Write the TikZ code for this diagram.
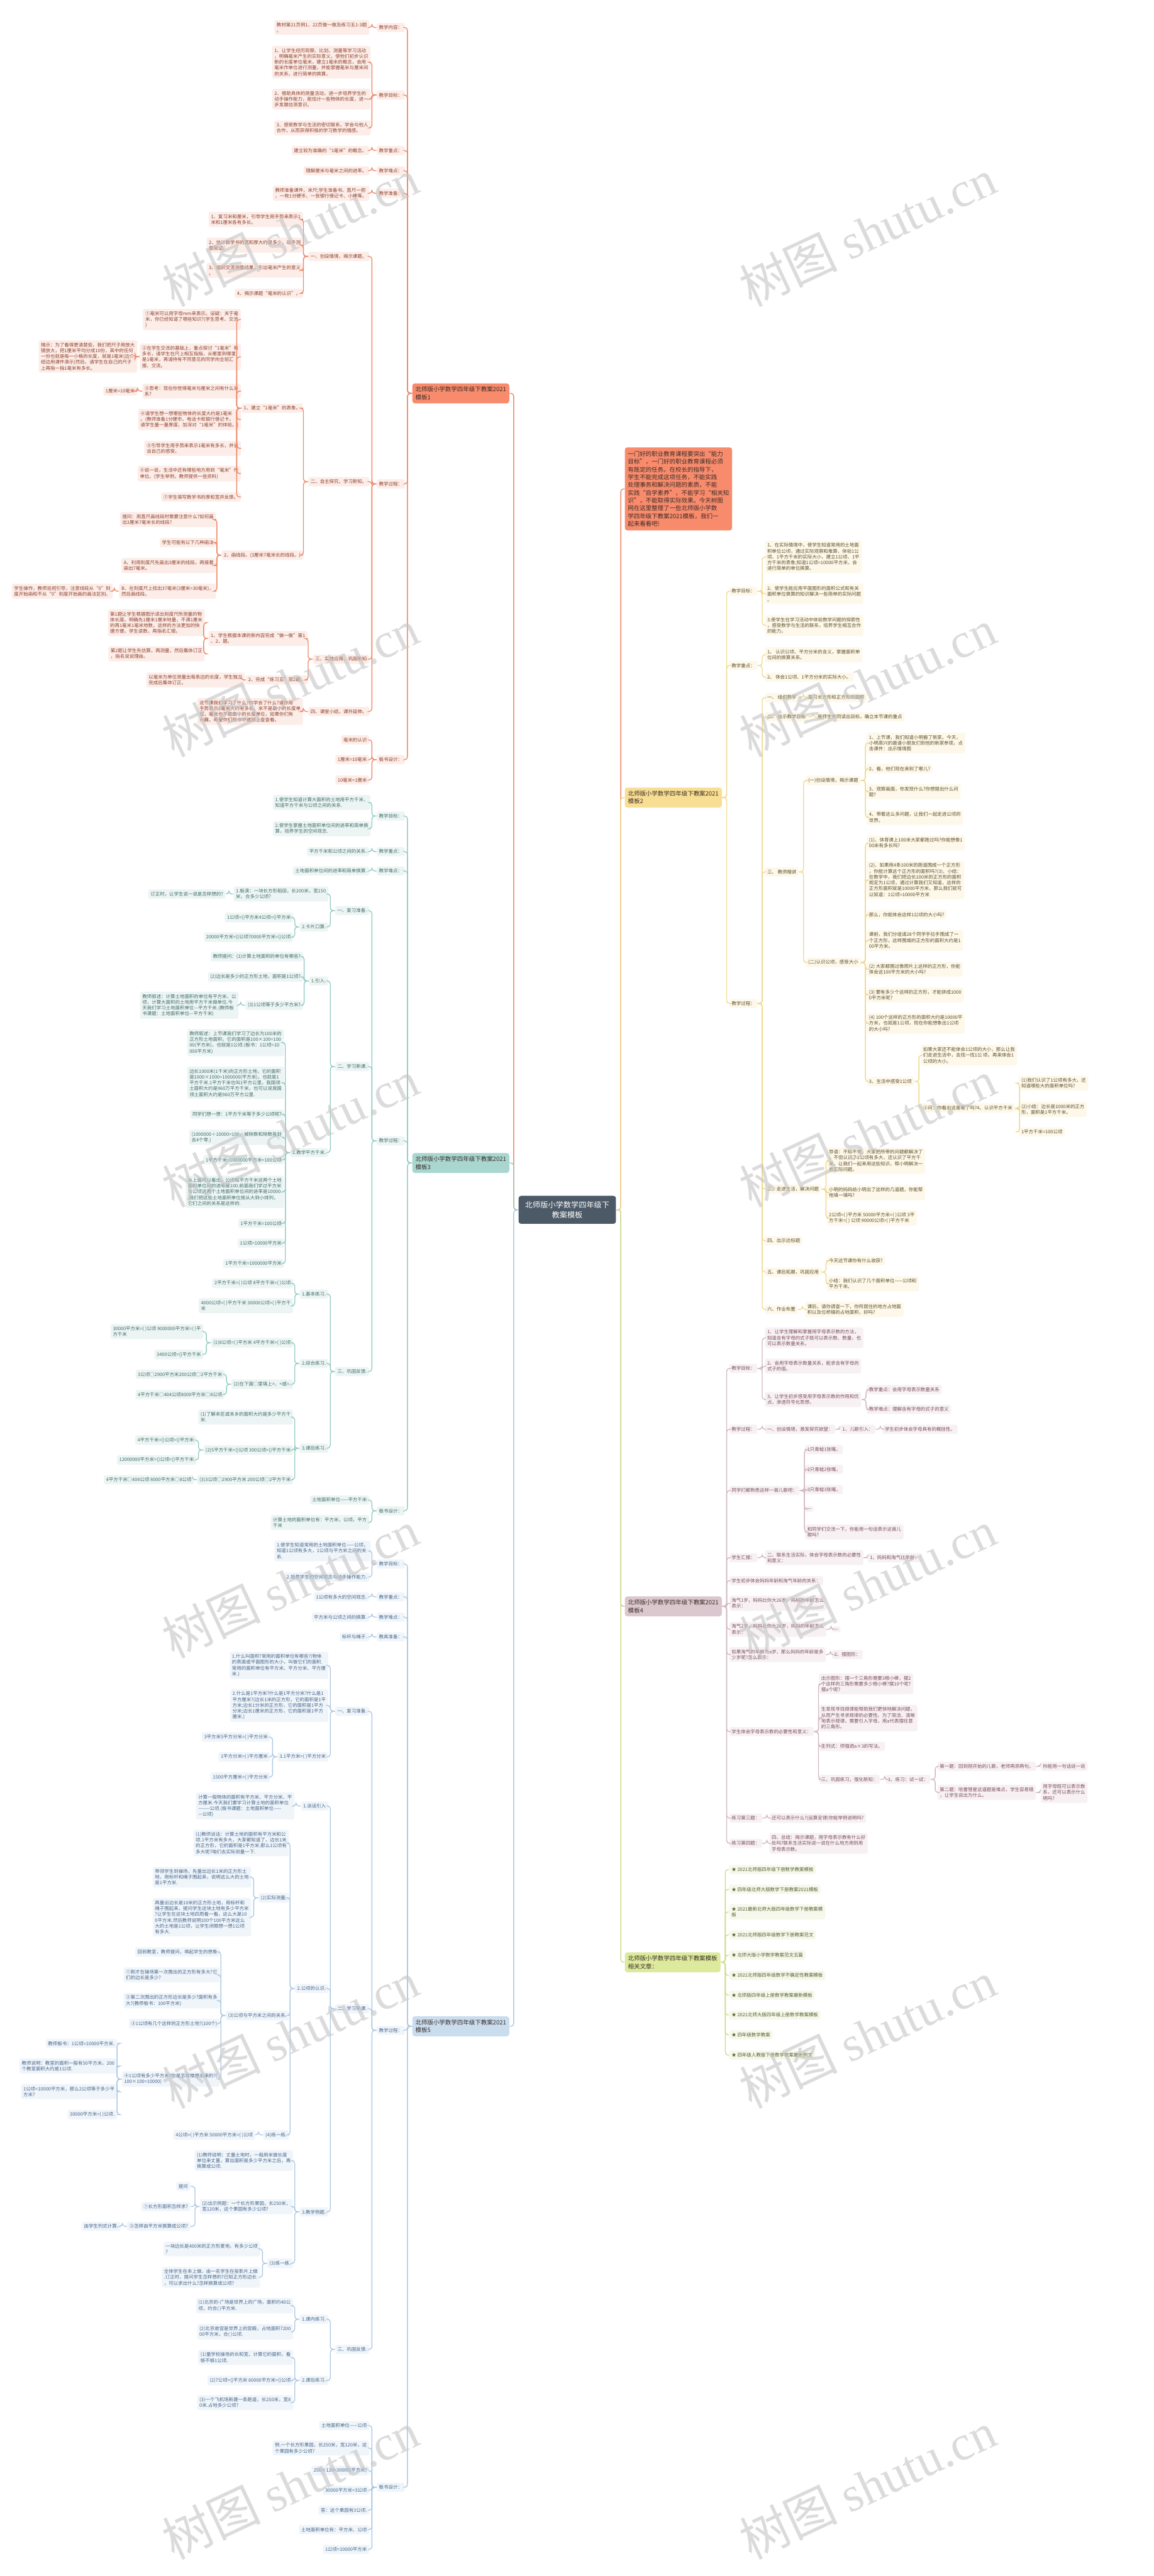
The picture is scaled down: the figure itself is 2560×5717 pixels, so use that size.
\documentclass[tikz,border=0pt]{standalone}
\usepackage{fontspec}
\setmainfont{Noto Sans CJK SC}
\newfontfamily\wmlat{Liberation Serif}
\definecolor{ln1}{HTML}{EE8A6B}\definecolor{bf1}{HTML}{F88B6C}\definecolor{fl1}{HTML}{FCEDE8}\definecolor{tx1}{HTML}{8E3F2B}
\definecolor{ln3}{HTML}{96CCC4}\definecolor{bf3}{HTML}{A9D7D0}\definecolor{fl3}{HTML}{EDF5F4}\definecolor{tx3}{HTML}{3E6D67}
\definecolor{ln5}{HTML}{AFC9E3}\definecolor{bf5}{HTML}{C9DDEF}\definecolor{fl5}{HTML}{F0F5FA}\definecolor{tx5}{HTML}{44658A}
\definecolor{ln2}{HTML}{F0D98C}\definecolor{bf2}{HTML}{F8DE92}\definecolor{fl2}{HTML}{FDF8EA}\definecolor{tx2}{HTML}{5E4E2A}
\definecolor{ln4}{HTML}{D3B8C2}\definecolor{bf4}{HTML}{DBC7CE}\definecolor{fl4}{HTML}{F7F1F3}\definecolor{tx4}{HTML}{7B4C5E}
\definecolor{ln6}{HTML}{CEDF8E}\definecolor{bf6}{HTML}{DDE99C}\definecolor{fl6}{HTML}{F5F8EB}\definecolor{tx6}{HTML}{556130}
\definecolor{rootc}{HTML}{4C5966}\definecolor{wmgray}{HTML}{C4C4C4}\definecolor{btx}{HTML}{3A2C28}
\newcommand\fsm{\fontsize{2.96pt}{3.67pt}\selectfont}
\newcommand\fbg{\fontsize{3.76pt}{4.9pt}\selectfont}
\newcommand\frt{\fontsize{4.84pt}{6.5pt}\selectfont}
\newcommand\wmf{\fontsize{31pt}{31pt}\selectfont}
\tikzset{
  conn/.style={line width=0.55pt, rounded corners=1.8pt},
  l1/.style={conn, draw=ln1}, l2/.style={conn, draw=ln2}, l3/.style={conn, draw=ln3},
  l4/.style={conn, draw=ln4}, l5/.style={conn, draw=ln5}, l6/.style={conn, draw=ln6},
  nb/.style={rounded corners=1.2pt, inner xsep=1.45pt, inner ysep=1.5pt, align=left, font=\fsm},
  p1/.style={nb, fill=fl1, text=tx1}, p2/.style={nb, fill=fl2, text=tx2}, p3/.style={nb, fill=fl3, text=tx3},
  p4/.style={nb, fill=fl4, text=tx4}, p5/.style={nb, fill=fl5, text=tx5}, p6/.style={nb, fill=fl6, text=tx6},
  brn/.style={rounded corners=1.6pt, inner xsep=2pt, inner ysep=2.1pt, align=left, font=\fbg, text=btx, minimum width=2.12cm},
  b1/.style={brn, fill=bf1}, b2/.style={brn, fill=bf2}, b3/.style={brn, fill=bf3},
  b4/.style={brn, fill=bf4}, b5/.style={brn, fill=bf5}, b6/.style={brn, fill=bf6},
  intro/.style={rounded corners=1.6pt, inner xsep=1.9pt, inner ysep=2.4pt, align=left, font=\fbg, text=btx, fill=bf1},
  rootn/.style={rounded corners=1.6pt, fill=rootc, text=white, align=center, font=\frt, minimum width=2.16cm, minimum height=0.62cm},
  wm/.style={rotate=25, text=wmgray, opacity=0.6, font=\wmf}
}
\newcommand\mkL[5]{\node[#1,anchor=east] (#2) at (#3,#4) {#5};}
\newcommand\mkR[5]{\node[#1,anchor=west] (#2) at (#3,#4) {#5};}
\newcommand\kidsL[3]{\foreach \ch in {#3} {\draw[#1] (#2.west) -- ++(-10,0) |- (\ch.east);}}
\newcommand\kidsR[3]{\foreach \ch in {#3} {\draw[#1] (#2.east) -- ++(10,0) |- (\ch.west);}}
\begin{document}
\begin{tikzpicture}[x=0.01cm,y=-0.01cm]
\fill[white] (0,0) rectangle (2560,5717);
\useasboundingbox (0,0) rectangle (2560,5717);
\node[rootn] (r) at (1259,2685) {北师版小学数学四年级下\\教案模板};

% ================= 模板1 =================
\mkL{b1}{a0}{1131}{873}{北师版小学数学四年级下教案2021\\模板1}
\mkL{p1}{a1}{899}{61}{教学内容：}
\mkL{p1}{a2}{899}{211}{教学目标：}
\mkL{p1}{a3}{899}{334}{教学重点：}
\mkL{p1}{a4}{899}{379}{教学难点：}
\mkL{p1}{a5}{899}{429}{教学准备：}
\mkL{p1}{a6}{899}{1074}{教学过程：}
\mkL{p1}{a7}{899}{1686}{板书设计：}
\mkL{p1}{a11}{820}{61}{教材第21页例1、22页做一做及练习五1-3题\\。}
\mkL{p1}{a21}{823}{138}{1、让学生经历观察、比划、测量等学习活动\\，明确毫米产生的实际意义，使他们初步认识\\新的长度单位毫米，建立1毫米的概念，会用\\毫米作单位进行测量，并能掌握毫米与厘米间\\的关系，进行简单的换算。}
\mkL{p1}{a22}{823}{220}{2、借助具体的测量活动，进一步培养学生的\\动手操作能力，能估计一些物体的长度，进一\\步发展估测意识。}
\mkL{p1}{a23}{823}{284}{3、感受数学与生活的密切联系，学会与他人\\合作，从而获得积极的学习数学的情感。}
\mkL{p1}{a31}{820}{334}{建立较为准确的“1毫米”的概念。}
\mkL{p1}{a41}{820}{379}{理解厘米与毫米之间的进率。}
\mkL{p1}{a51}{820}{429}{教师准备课件、米尺;学生准备书、直尺一把\\、一枚1分硬币、一张银行借记卡、小棒等。}
\mkL{p1}{a61}{820}{569}{一、创设情境，揭示课题。}
\mkL{p1}{a62}{820}{1069}{二、自主探究，学习新知。}
\mkL{p1}{a63}{820}{1463}{三、实践应用，巩固新知}
\mkL{p1}{a64}{820}{1579}{四、课堂小结，课外延伸。}
\mkL{p1}{a71}{820}{1642}{毫米的认识}
\mkL{p1}{a72}{820}{1686}{1厘米=10毫米}
\mkL{p1}{a73}{820}{1731}{10毫米=1厘米}
\mkL{p1}{a611}{673}{487}{1、复习米和厘米，引导学生用手势来表示1\\米和1厘米各有多长。}
\mkL{p1}{a612}{673}{544}{2、估计数学书的宽和厚大约是多少，动手测\\量验证。}
\mkL{p1}{a613}{673}{600}{3、组织交流测量结果，引出毫米产生的意义\\。}
\mkL{p1}{a614}{673}{651}{4、揭示课题“毫米的认识”。}
\mkL{p1}{a621}{673}{906}{1、建立“1毫米”的表象。}
\mkL{p1}{a622}{673}{1232}{2、画线段。(3厘米7毫米长的线段。)}
\mkL{p1}{a6211}{535}{709}{①毫米可以用字母mm来表示。设疑：关于毫\\米，你已经知道了哪些知识?(学生思考、交流\\)}
\mkL{p1}{a6212}{535}{792}{②在学生交流的基础上，重点探讨“1毫米”有\\多长，请学生在尺上相互指指，从哪里到哪里\\是1毫米，再请持有不同意见的同学向全班汇\\报、交流。}
\mkL{p1}{a62121}{305}{791}{揭示：为了看得更清楚些，我们把尺子用放大\\镜放大，把1厘米平均分成10份，其中的任何\\一份也就是每一小格的长度，就是1毫米(边介\\绍边用课件演示)然后，请学生在自己的尺子\\上再指一指1毫米有多长。}
\mkL{p1}{a6213}{535}{868}{③思考：现在你觉得毫米与厘米之间有什么关\\系?}
\mkL{p1}{a62131}{305}{868}{1厘米=10毫米}
\mkL{p1}{a6214}{535}{931}{④请学生想一想哪些物体的长度大约是1毫米\\。(教师准备1分硬币、电话卡和银行借记卡，\\请学生量一量厚度，加深对“1毫米”的体验。)}
\mkL{p1}{a6215}{535}{995}{⑤引导学生用手势来表示1毫米有多长，并谈\\谈自己的感受。}
\mkL{p1}{a6216}{535}{1051}{⑥说一说，生活中还有哪些地方用到“毫米”作\\单位。(学生举例，教师提供一些资料)}
\mkL{p1}{a6217}{535}{1103}{⑦学生填写数学书的厚和宽并反馈。}
\mkL{p1}{a6221}{480}{1153}{提问：用直尺画线段时需要注意什么?如何画\\出3厘米7毫米长的线段?}
\mkL{p1}{a6222}{480}{1204}{学生可能有以下几种画法}
\mkL{p1}{a6223}{480}{1255}{A、利用刻度尺先画出3厘米的线段，再接着\\画出7毫米。}
\mkL{p1}{a6224}{480}{1312}{B、在刻度尺上找出37毫米(3厘米=30毫米)，\\然后画线段。}
\mkL{p1}{a62241}{251}{1312}{学生操作，教师巡视引导，注意线段从“0”刻\\度开始画和不从“0”刻度开始画的画法区别。}
\mkL{p1}{a631}{683}{1417}{1、学生根据本课的新内容完成“做一做”第1\\、2、题。}
\mkL{p1}{a632}{683}{1509}{2、完成“练习五”第2题。}
\mkL{p1}{a6311}{455}{1382}{第1题让学生根据图示读出刻度尺所测量的物\\体长度。明确先1厘米1厘米地量，不满1厘米\\的再1毫米1毫米地数，这样的方法更加的快\\捷方便。学生读数，再指名汇报。}
\mkL{p1}{a6312}{455}{1451}{第2题让学生先估算，再测量，然后集体订正\\，指名说说理由。}
\mkL{p1}{a6321}{544}{1509}{以毫米为单位测量出每条边的长度，学生独立\\完成后集体订正。}
\mkL{p1}{a641}{673}{1579}{这节课我们学习了什么?你学会了什么?请你用\\手势表示1毫米大约有多长。米不是最小的长度单\\位，毫米也不是最小的长度单位，如果你们有\\兴趣，希望你们到书中或网上查查看。}
\kidsL{l1}{a0}{a1,a2,a3,a4,a5,a6,a7}
\kidsL{l1}{a1}{a11}\kidsL{l1}{a2}{a21,a22,a23}\kidsL{l1}{a3}{a31}\kidsL{l1}{a4}{a41}\kidsL{l1}{a5}{a51}
\kidsL{l1}{a6}{a61,a62,a63,a64}\kidsL{l1}{a7}{a71,a72,a73}
\kidsL{l1}{a61}{a611,a612,a613,a614}\kidsL{l1}{a62}{a621,a622}
\kidsL{l1}{a621}{a6211,a6212,a6213,a6214,a6215,a6216,a6217}
\kidsL{l1}{a6212}{a62121}\kidsL{l1}{a6213}{a62131}
\kidsL{l1}{a622}{a6221,a6222,a6223,a6224}\kidsL{l1}{a6224}{a62241}
\kidsL{l1}{a63}{a631,a632}\kidsL{l1}{a631}{a6311,a6312}\kidsL{l1}{a632}{a6321}\kidsL{l1}{a64}{a641}

% ================= 模板3 =================
\mkL{b3}{c0}{1131}{2581}{北师版小学数学四年级下教案2021\\模板3}
\mkL{p3}{c1}{899}{1811}{教学目标：}
\mkL{p3}{c2}{899}{1890}{教学重点：}
\mkL{p3}{c3}{899}{1933}{教学难点：}
\mkL{p3}{c4}{899}{2532}{教学过程：}
\mkL{p3}{c5}{899}{3353}{板书设计：}
\mkL{p3}{c11}{823}{1781}{1.使学生知道计算大面积的土地用平方千米，\\知道平方千米与公顷之间的关系.}
\mkL{p3}{c12}{823}{1839}{2.使学生掌握土地面积单位间的进率和简单换\\算，培养学生的空间观念.}
\mkL{p3}{c21}{820}{1890}{平方千米和公顷之间的关系.}
\mkL{p3}{c31}{820}{1933}{土地面积单位间的进率和简单换算.}
\mkL{p3}{c41}{820}{2021}{一、复习准备.}
\mkL{p3}{c42}{820}{2367}{二、学习新课.}
\mkL{p3}{c43}{820}{3044}{三、巩固反馈.}
\mkL{p3}{c51}{820}{3329}{土地面积单位——平方千米}
\mkL{p3}{c52}{820}{3379}{计算土地的面积单位有：平方米，公顷，平方\\千米}
\mkL{p3}{c411}{729}{1984}{1.板演：一块长方形稻田，长200米，宽150\\米，合多少公顷?}
\mkL{p3}{c4111}{501}{1984}{订正时，让学生说一说是怎样想的?}
\mkL{p3}{c412}{729}{2057}{2.卡片口算.}
\mkL{p3}{c4121}{651}{2036}{1公顷=()平方米4公顷=()平方米}
\mkL{p3}{c4122}{651}{2080}{20000平方米=()公顷70000平方米=()公顷}
\mkL{p3}{c421}{729}{2177}{1.引入.}
\mkL{p3}{c4211}{673}{2123}{教师提问：(1)计算土地面积的单位有哪些?}
\mkL{p3}{c4212}{673}{2168}{(2)边长是多少的正方形土地，面积是1公顷?}
\mkL{p3}{c4213}{673}{2231}{(3)1公顷等于多少平方米?}
\mkL{p3}{c42131}{530}{2231}{教师叙述：计算土地面积的单位有平方米、公\\顷，计算大面积的土地用平方千米做单位.今\\天我们学习土地面积单位—平方千米.(教师板\\书课题：土地面积单位—平方千米)}
\mkL{p3}{c422}{729}{2558}{2.教学平方千米.}
\mkL{p3}{c4221}{631}{2314}{教师叙述：上节课我们学习了边长为100米的\\正方形土地面积，它的面积是100×100=100\\00(平方米)，也就是1公顷.(板书：1公顷=10\\000平方米)}
\mkL{p3}{c4222}{631}{2403}{边长1000米(1千米)的正方形土地，它的面积\\是1000×1000=1000000(平方米)，也就是1\\平方千米.1平方千米也叫1平方公里，我国领\\土面积大约是960万平方千米，也可以说我国\\领土面积大约是960万平方公里.}
\mkL{p3}{c4223}{631}{2473}{同学们想一想：1平方千米等于多少公顷呢?}
\mkL{p3}{c4224}{631}{2524}{(1000000÷10000=100，被除数和除数各划\\去4个零.)}
\mkL{p3}{c4225}{631}{2574}{1平方千米=1000000平方米=100公顷}
\mkL{p3}{c4226}{631}{2645}{从上面可以看出，公顷和平方千米这两个土地\\面积单位间的进率是100.前面我们学过平方米\\与公顷这两个土地面积单位间的进率是10000\\.我们把这些土地面积单位按从大到小排列，\\它们之间的关系是这样的.}
\mkL{p3}{c4227}{631}{2715}{1平方千米=100公顷}
\mkL{p3}{c4228}{631}{2759}{1公顷=10000平方米}
\mkL{p3}{c4229}{631}{2804}{1平方千米=1000000平方米}
\mkL{p3}{c431}{729}{2872}{1.基本练习.}
\mkL{p3}{c4311}{651}{2848}{2平方千米=( )公顷 8平方千米=( )公顷}
\mkL{p3}{c4312}{651}{2898}{4000公顷=( )平方千米 30000公顷=( )平方千\\米}
\mkL{p3}{c432}{729}{3026}{2.综合练习.}
\mkL{p3}{c4321}{651}{2980}{(1)8公顷=( )平方米 4平方千米=( )公顷}
\mkL{p3}{c43211}{452}{2955}{30000平方米=( )公顷 9000000平方米=( )平\\方千米}
\mkL{p3}{c43212}{452}{3006}{3400公顷=()平方千米}
\mkL{p3}{c4322}{651}{3072}{(2)在下面○里填上>、<或=.}
\mkL{p3}{c43221}{499}{3050}{3公顷○2900平方米200公顷○2平方千米}
\mkL{p3}{c43222}{499}{3095}{4平方千米○404公顷8000平方米○8公顷}
\mkL{p3}{c433}{729}{3214}{3.课后练习.}
\mkL{p3}{c4331}{651}{3145}{(1)了解本区或本乡的面积大约是多少平方千\\米.}
\mkL{p3}{c4332}{651}{3218}{(2)5平方千米=()公顷 300公顷=()平方千米}
\mkL{p3}{c43321}{436}{3196}{4平方千米=()公顷=()平方米}
\mkL{p3}{c43322}{436}{3240}{12000000平方米=()公顷=()平方千米}
\mkL{p3}{c4333}{651}{3284}{(3)3公顷○2900平方米 200公顷○2平方千米}
\mkL{p3}{c43331}{431}{3284}{4平方千米○404公顷 8000平方米○8公顷}
\kidsL{l3}{c0}{c1,c2,c3,c4,c5}
\kidsL{l3}{c1}{c11,c12}\kidsL{l3}{c2}{c21}\kidsL{l3}{c3}{c31}\kidsL{l3}{c4}{c41,c42,c43}\kidsL{l3}{c5}{c51,c52}
\kidsL{l3}{c41}{c411,c412}\kidsL{l3}{c411}{c4111}\kidsL{l3}{c412}{c4121,c4122}
\kidsL{l3}{c42}{c421,c422}\kidsL{l3}{c421}{c4211,c4212,c4213}\kidsL{l3}{c4213}{c42131}
\kidsL{l3}{c422}{c4221,c4222,c4223,c4224,c4225,c4226,c4227,c4228,c4229}
\kidsL{l3}{c43}{c431,c432,c433}\kidsL{l3}{c431}{c4311,c4312}\kidsL{l3}{c432}{c4321,c4322}
\kidsL{l3}{c4321}{c43211,c43212}\kidsL{l3}{c4322}{c43221,c43222}
\kidsL{l3}{c433}{c4331,c4332,c4333}\kidsL{l3}{c4332}{c43321,c43322}\kidsL{l3}{c4333}{c43331}

% ================= 模板5 =================
\mkL{b5}{e0}{1131}{4497}{北师版小学数学四年级下教案2021\\模板5}
\mkL{p5}{e1}{899}{3471}{教学目标：}
\mkL{p5}{e2}{899}{3544}{教学重点：}
\mkL{p5}{e3}{899}{3589}{教学难点：}
\mkL{p5}{e4}{899}{3633}{教具准备：}
\mkL{p5}{e5}{899}{4506}{教学过程：}
\mkL{p5}{e6}{899}{5520}{板书设计：}
\mkL{p5}{e11}{823}{3442}{1.使学生知道常用的土地面积单位——公顷，\\知道1公顷有多大，1公顷与平方米之间的关\\系.}
\mkL{p5}{e12}{820}{3500}{2.培养学生的空间观念与动手操作能力.}
\mkL{p5}{e21}{820}{3544}{1公顷有多大的空间观念.}
\mkL{p5}{e31}{820}{3589}{平方米与公顷之间的换算.}
\mkL{p5}{e41}{820}{3633}{标杆与绳子.}
\mkL{p5}{e51}{820}{3798}{一、复习准备.}
\mkL{p5}{e52}{820}{4458}{二、学习新课.}
\mkL{p5}{e53}{820}{5214}{三、巩固反馈.}
\mkL{p5}{e61}{820}{5383}{土地面积单位——公顷}
\mkL{p5}{e62}{820}{5433}{例.一个长方形果园，长250米，宽120米，这\\个果园有多少公顷?}
\mkL{p5}{e63}{820}{5483}{250×120=30000(平方米)}
\mkL{p5}{e64}{820}{5527}{30000平方米=3公顷}
\mkL{p5}{e65}{820}{5571}{答：这个果园有3公顷.}
\mkL{p5}{e66}{820}{5614}{土地面积单位有：平方米、公顷}
\mkL{p5}{e67}{820}{5658}{1公顷=10000平方米}
\mkL{p5}{e511}{729}{3696}{1.什么叫面积?常用的面积单位有哪些?(物体\\的表面或平面图形的大小，叫做它们的面积.\\常用的面积单位有平方米、平方分米、平方厘\\米.)}
\mkL{p5}{e512}{729}{3785}{2.什么是1平方米?什么是1平方分米?什么是1\\平方厘米?(边长1米的正方形，它的面积是1平\\方米;边长1分米的正方形，它的面积是1平方\\分米;边长1厘米的正方形，它的面积是1平方\\厘米.)}
\mkL{p5}{e513}{729}{3899}{3.1平方米=( )平方分米}
\mkL{p5}{e5131}{600}{3855}{3平方米5平方分米=( )平方分米}
\mkL{p5}{e5132}{600}{3899}{1平方分米=( )平方厘米}
\mkL{p5}{e5133}{600}{3944}{1500平方厘米=( )平方分米}
\mkL{p5}{e521}{729}{4008}{1.谈话引入}
\mkL{p5}{e5211}{654}{4008}{计算一般物体的面积有平方米、平方分米、平\\方厘米.今天我们要学习计算土地的面积单位\\———公顷.(板书课题：土地面积单位——\\—公顷)}
\mkL{p5}{e522}{729}{4413}{2.公顷的认识.}
\mkL{p5}{e5221}{642}{4090}{(1)教师谈话：计算土地的面积有平方米和公\\顷.1平方米有多大，大家都知道了，边长1米\\的正方形，它的面积是1平方米.那么1公顷有\\多大呢?咱们去实际测量一下.}
\mkL{p5}{e5222}{642}{4212}{(2)实际测量.}
\mkL{p5}{e52221}{558}{4166}{带领学生到操场，先量出边长1米的正方形土\\地，用标杆和绳子围起来，说明这么大的土地\\是1平方米.}
\mkL{p5}{e52222}{558}{4255}{再量出边长是10米的正方形土地，用标杆和\\绳子围起来，提问学生这块土地有多少平方米\\?让学生在这块土地四周看一看，这么大是10\\0平方米.然后教师说明100个100平方米这么\\大的土地是1公顷，让学生闭眼想一想1公顷\\有多大.}
\mkL{p5}{e5223}{642}{4473}{(3)公顷与平方米之间的关系.}
\mkL{p5}{e52231}{488}{4332}{回到教室，教师提问，唤起学生的想象}
\mkL{p5}{e52232}{488}{4383}{①刚才在操场第一次围出的正方形有多大?它\\们的边长是多少?}
\mkL{p5}{e52233}{488}{4440}{②第二次围出的正方形边长是多少?面积有多\\大?(教师板书：100平方米)}
\mkL{p5}{e52234}{488}{4491}{③1公顷有几个这样的正方形土地?(100个)}
\mkL{p5}{e52235}{488}{4614}{④1公顷有多少平方米?你是怎样推想出来的?(\\100×100=10000)}
\mkL{p5}{e522351}{260}{4535}{教师板书：1公顷=10000平方米.}
\mkL{p5}{e522352}{260}{4585}{教师说明：教室的面积一般有50平方米，200\\个教室面积大约是1公顷.}
\mkL{p5}{e522353}{260}{4642}{1公顷=10000平方米，那么2公顷等于多少平\\方米?}
\mkL{p5}{e522354}{260}{4693}{30000平方米=( )公顷.}
\mkL{p5}{e5224}{642}{4738}{(4)练一练.}
\mkL{p5}{e52241}{567}{4738}{4公顷=( )平方米 50000平方米=( )公顷}
\mkL{p5}{e523}{729}{4909}{3.教学例题.}
\mkL{p5}{e5231}{651}{4795}{(1)教师说明：丈量土地时，一般用米做长度\\单位来丈量，算出面积是多少平方米之后，再\\换算成公顷.}
\mkL{p5}{e5232}{651}{4897}{(2)出示例题：一个长方形果园，长250米，\\宽120米，这个果园有多少公顷?}
\mkL{p5}{e52321}{423}{4852}{提问}
\mkL{p5}{e52322}{423}{4897}{①长方形面积怎样求?}
\mkL{p5}{e52323}{423}{4941}{②怎样由平方米换算成公顷?}
\mkL{p5}{e523231}{268}{4941}{由学生列式计算.}
\mkL{p5}{e5233}{651}{5023}{(3)练一练.}
\mkL{p5}{e52331}{578}{4991}{一块边长是400米的正方形麦地，有多少公顷\\?}
\mkL{p5}{e52332}{578}{5054}{全体学生在本上做，由一名学生在投影片上做\\.订正时，提问学生怎样想的?已知正方形边长\\，可以求出什么?怎样换算成公顷?}
\mkL{p5}{e531}{729}{5147}{1.课内练习.}
\mkL{p5}{e5311}{651}{5117}{(1)北京的-广场是世界上的广场，面积约40公\\顷，约合( )平方米.}
\mkL{p5}{e5312}{651}{5175}{(2)北京故宫是世界上的宫殿，占地面积7200\\00平方米，合( )公顷.}
\mkL{p5}{e532}{729}{5283}{2.课后练习.}
\mkL{p5}{e5321}{651}{5232}{(1)量学校操场的长和宽，计算它的面积，看\\够不够1公顷.}
\mkL{p5}{e5322}{651}{5283}{(2)7公顷=()平方米 60000平方米=()公顷}
\mkL{p5}{e5323}{651}{5332}{(3)一个飞机场新建一条跑道，长250米，宽8\\0米.占地多少公顷?}
\kidsL{l5}{e0}{e1,e2,e3,e4,e5,e6}
\kidsL{l5}{e1}{e11,e12}\kidsL{l5}{e2}{e21}\kidsL{l5}{e3}{e31}\kidsL{l5}{e4}{e41}\kidsL{l5}{e5}{e51,e52,e53}
\kidsL{l5}{e6}{e61,e62,e63,e64,e65,e66,e67}
\kidsL{l5}{e51}{e511,e512,e513}\kidsL{l5}{e513}{e5131,e5132,e5133}
\kidsL{l5}{e52}{e521,e522,e523}\kidsL{l5}{e521}{e5211}\kidsL{l5}{e522}{e5221,e5222,e5223,e5224}
\kidsL{l5}{e5222}{e52221,e52222}\kidsL{l5}{e5223}{e52231,e52232,e52233,e52234,e52235}
\kidsL{l5}{e52235}{e522351,e522352,e522353,e522354}\kidsL{l5}{e5224}{e52241}
\kidsL{l5}{e523}{e5231,e5232,e5233}\kidsL{l5}{e5232}{e52321,e52322,e52323}\kidsL{l5}{e52323}{e523231}
\kidsL{l5}{e5233}{e52331,e52332}
\kidsL{l5}{e53}{e531,e532}\kidsL{l5}{e531}{e5311,e5312}\kidsL{l5}{e532}{e5321,e5322,e5323}

% ================= intro =================
\mkR{intro}{i0}{1386}{1085}{一门好的职业教育课程要突出“能力\\目标”，一门好的职业教育课程必须\\有既定的任务。在校长的指导下，\\学生不能完成这项任务，不能实践\\处理事务和解决问题的素质，不能\\实践“自学素养”，不能学习“相关知\\识”，不能取得实际效果。今天树图\\网在这里整理了一些北师版小学数\\学四年级下教案2021模板，我们一\\起来看看吧!}

% ================= 模板2 =================
\mkR{b2}{d0}{1386}{1770}{北师版小学数学四年级下教案2021\\模板2}
\mkR{p2}{d1}{1618}{1312}{教学目标：}
\mkR{p2}{d2}{1618}{1477}{教学重点：}
\mkR{p2}{d3}{1618}{2227}{教学过程：}
\mkR{p2}{d11}{1697}{1236}{1、在实际情境中，使学生知道常用的土地面\\积单位公顷，通过实际观察和推算，体验1公\\顷、1平方千米的实际大小，建立1公顷、1平\\方千米的表象;知道1公顷=10000平方米，会\\进行简单的单位换算。}
\mkR{p2}{d12}{1697}{1318}{2、使学生能应用平面图形的面积公式和有关\\面积单位换算的知识解决一些简单的实际问题\\。}
\mkR{p2}{d13}{1697}{1388}{3.使学生在学习活动中体验数学问题的探索性\\，感受数学与生活的联系，培养学生相互合作\\的能力。}
\mkR{p2}{d21}{1697}{1453}{1、 认识公顷、平方分米的含义，掌握面积单\\位间的换算关系。}
\mkR{p2}{d22}{1697}{1503}{2、 体会1公顷、1平方分米的实际大小。}
\mkR{p2}{d31}{1697}{1548}{一、 组织教学}
\mkR{p2}{d311}{1788}{1548}{复习长方形和正方形的面积}
\mkR{p2}{d32}{1697}{1591}{二、 出示教学目标}
\mkR{p2}{d321}{1809}{1591}{是师生共同读出目标，确立本节课的重点}
\mkR{p2}{d33}{1697}{1935}{三、 教师精讲}
\mkR{p2}{d331}{1788}{1732}{(一)创设情境，揭示课题}
\mkR{p2}{d3311}{1923}{1649}{1、上节课，我们知道小明搬了新家。今天，\\小明高兴的邀请小朋友们到他的新家参观，点\\击课件：出示情境图}
\mkR{p2}{d3312}{1923}{1706}{2、看，他们现在来到了哪儿?}
\mkR{p2}{d3313}{1923}{1757}{3、观察画面，你发现什么?你想提出什么问\\题?}
\mkR{p2}{d3314}{1923}{1814}{4、带着这么多问题，让我们一起走进公顷的\\世界。}
\mkR{p2}{d332}{1788}{2136}{(二)认识公顷，感受大小}
\mkR{p2}{d3321}{1923}{1871}{(1)、体育课上100米大家都跑过吗?你能想像1\\00米有多长吗?}
\mkR{p2}{d3322}{1923}{1953}{(2)、如果用4条100米的跑道围成一个正方形\\，你能计算这个正方形的面积吗?(3)、小结：\\在数学中，我们把边长100米的正方形的面积\\规定为1公顷，通过计算我们又知道，这样的\\正方形面积就是10000平方米，那么我们就可\\以知道：1公顷=10000平方米}
\mkR{p2}{d3323}{1923}{2030}{那么，你能体会这样1公顷的大小吗?}
\mkR{p2}{d3324}{1923}{2087}{课前，我们分组请28个同学手拉手围成了一\\个正方形，这样围城的正方形的面积大约是1\\00平方米。}
\mkR{p2}{d3325}{1923}{2151}{(2) 大家都围过像照片上这样的正方形，你能\\体会这100平方米的大小吗?}
\mkR{p2}{d3326}{1923}{2208}{(3) 要有多少个这样的正方形，才能拼成1000\\0平方米呢?}
\mkR{p2}{d3327}{1923}{2271}{(4) 100个这样的正方形的面积大约是10000平\\方米，也就是1公顷，现在你能想象出1公顷\\的大小吗?}
\mkR{p2}{d3328}{1923}{2400}{3、生活中感受1公顷}
\mkR{p2}{d33281}{2043}{2342}{如果大家还不能体会1公顷的大小，那么让我\\们走进生活中，去找一找1公 顷，再来体会1\\公顷的大小。}
\mkR{p2}{d33282}{2043}{2459}{③问：你看出这是哪了吗?4、认识平方千米}
\mkR{p2}{d332821}{2261}{2404}{(1)我们认识了1公顷有多大，还\\知道哪些大的面积单位吗?}
\mkR{p2}{d332822}{2261}{2462}{(2)小结：边长是1000米的正方\\形，面积是1平方千米。}
\mkR{p2}{d332823}{2261}{2512}{1平方千米=100公顷}
\mkR{p2}{d34}{1697}{2639}{三、走进生活，解决问题}
\mkR{p2}{d341}{1834}{2576}{导语：不知不觉，大家把所带的问题都解决了\\，不但认识了1公顷有多大，还认识了平方千\\米，让我们一起来用这些知识，帮小明解决一\\些实际问题。}
\mkR{p2}{d342}{1834}{2647}{小明的妈妈给小明出了这样的几道题，你能帮\\他填一填吗?}
\mkR{p2}{d343}{1834}{2703}{2公顷=( )平方米 50000平方米=( )公顷 3平\\方千米=( ) 公顷 90000公顷=( )平方千米}
\mkR{p2}{d35}{1697}{2754}{四、出示达标题}
\mkR{p2}{d36}{1697}{2823}{五、课后拓展，巩固应用}
\mkR{p2}{d361}{1834}{2798}{今天这节课你有什么收获?}
\mkR{p2}{d362}{1834}{2849}{小结：我们认识了几个面积单位——公顷和\\平方千米。}
\mkR{p2}{d37}{1697}{2906}{六、作业布置}
\mkR{p2}{d371}{1786}{2906}{课后，请你调查一下，你所居住的地方占地面\\积以及位桥镇的占地面积，好吗?}
\kidsR{l2}{d0}{d1,d2,d3}
\kidsR{l2}{d1}{d11,d12,d13}\kidsR{l2}{d2}{d21,d22}\kidsR{l2}{d3}{d31,d32,d33,d34,d35,d36,d37}
\kidsR{l2}{d31}{d311}\kidsR{l2}{d32}{d321}\kidsR{l2}{d33}{d331,d332}
\kidsR{l2}{d331}{d3311,d3312,d3313,d3314}
\kidsR{l2}{d332}{d3321,d3322,d3323,d3324,d3325,d3326,d3327,d3328}
\kidsR{l2}{d3328}{d33281,d33282}\kidsR{l2}{d33282}{d332821,d332822,d332823}
\kidsR{l2}{d34}{d341,d342,d343}\kidsR{l2}{d36}{d361,d362}\kidsR{l2}{d37}{d371}

% ================= 模板4 =================
\mkR{b4}{f0}{1386}{3565}{北师版小学数学四年级下教案2021\\模板4}
\mkR{p4}{f1}{1618}{3037}{教学目标：}
\mkR{p4}{f2}{1618}{3172}{教学过程：}
\mkR{p4}{f3}{1618}{3308}{同学们都熟悉这样一首儿歌吧：}
\mkR{p4}{f4}{1618}{3457}{学生汇报：}
\mkR{p4}{f5}{1618}{3508}{学生初步体会妈妈年龄和淘气年龄的关系：}
\mkR{p4}{f6}{1618}{3558}{淘气1岁，妈妈比你大26岁，妈妈的年龄怎么\\表示：}
\mkR{p4}{f7}{1618}{3616}{淘气2岁，妈妈比你大26岁，妈妈的年龄怎么\\表示：}
\mkR{p4}{f8}{1618}{3672}{如果淘气的年龄为a岁，那么妈妈的年龄是多\\少岁呢?怎么表示：}
\mkR{p4}{f9}{1618}{3843}{学生体会字母表示数的必要性和意义：}
\mkR{p4}{f10}{1618}{4035}{练习第三题：}
\mkR{p4}{f11}{1618}{4091}{练习第四题：}
\mkR{p4}{f101}{1697}{2969}{1、让学生理解和掌握用字母表示数的方法，\\知道含有字母的式子既可以表示数、数量，也\\可以表示数量关系。}
\mkR{p4}{f102}{1697}{3032}{2、会用字母表示数量关系，能求含有字母的\\式子的值。}
\mkR{p4}{f103}{1697}{3106}{3、让学生初步感受用字母表示数的作用和优\\点，渗透符号化思想。}
\mkR{p4}{f1031}{1923}{3084}{教学重点：会用字母表示数量关系}
\mkR{p4}{f1032}{1923}{3128}{教学难点：理解含有字母的式子的意义}
\mkR{p4}{f21}{1697}{3172}{一、创设情境，激发探究欲望：}
\mkR{p4}{f211}{1864}{3172}{1、儿歌引入：}
\mkR{p4}{f2111}{1958}{3172}{学生初步体会字母具有的概括性。}
\mkR{p4}{f31}{1786}{3217}{1只青蛙1张嘴，}
\mkR{p4}{f32}{1786}{3261}{2只青蛙2张嘴，}
\mkR{p4}{f33}{1786}{3306}{3只青蛙3张嘴，}
\mkR{p4}{f34}{1786}{3349}{...}
\mkR{p4}{f35}{1786}{3400}{和同学们交流一下。你能用一句话表示这首儿\\歌吗?}
\mkR{p4}{f41}{1697}{3457}{二、联系生活实际，体会字母表示数的必要性\\和意义：}
\mkR{p4}{f411}{1925}{3457}{1、妈妈和淘气比年龄：}
\mkR{p4}{f71}{1846}{3616}{...}
\mkR{p4}{f81}{1846}{3672}{2、摆图形：}
\mkR{p4}{f91}{1817}{3737}{出示图形：摆一个三角形需要3根小棒，摆2\\个这样的三角形需要多少根小棒?摆10个呢?\\摆a个呢?}
\mkR{p4}{f92}{1817}{3813}{生发现寻找规律能帮助我们更快地解决问题，\\从而产生寻求规律的必要性。为了简洁、清晰\\地表示规律，需要引入字母，用a代表摆任意\\的三角形。}
\mkR{p4}{f93}{1817}{3876}{生列式：师强调a×3的写法。}
\mkR{p4}{f94}{1817}{3949}{三、巩固练习，强化新知：}
\mkR{p4}{f941}{1965}{3949}{1、练习：试一试：}
\mkR{p4}{f9411}{2080}{3920}{第一题：回到刚开始的儿歌，老师再添两句。}
\mkR{p4}{f94111}{2309}{3920}{你能用一句话说一说}
\mkR{p4}{f9412}{2080}{3978}{第二题：哈雷彗星这道题是难点，学生容易错\\，让学生说出为什么。}
\mkR{p4}{f94121}{2309}{3978}{用字母既可以表示数\\系，还可以表示什么\\明吗?}
\mkR{p4}{f1001}{1707}{4035}{还可以表示什么?(运算定律)你能举例说明吗?}
\mkR{p4}{f1101}{1707}{4091}{四、总结：揭示课题，用字母表示数有什么好\\处吗?联系生活实际说一说在什么地方用到用\\字母表示数。}
\kidsR{l4}{f0}{f1,f2,f3,f4,f5,f6,f7,f8,f9,f10,f11}
\kidsR{l4}{f1}{f101,f102,f103}\kidsR{l4}{f103}{f1031,f1032}
\kidsR{l4}{f2}{f21}\kidsR{l4}{f21}{f211}\kidsR{l4}{f211}{f2111}
\kidsR{l4}{f3}{f31,f32,f33,f34,f35}
\kidsR{l4}{f4}{f41}\kidsR{l4}{f41}{f411}\kidsR{l4}{f7}{f71}\kidsR{l4}{f8}{f81}
\kidsR{l4}{f9}{f91,f92,f93,f94}\kidsR{l4}{f94}{f941}\kidsR{l4}{f941}{f9411,f9412}
\kidsR{l4}{f9411}{f94111}\kidsR{l4}{f9412}{f94121}
\kidsR{l4}{f10}{f1001}\kidsR{l4}{f11}{f1101}

% ================= 相关文章 =================
\mkR{b6}{g0}{1386}{4355}{北师版小学数学四年级下教案模板\\相关文章：}
\mkR{p6}{g1}{1618}{4149}{★ 2021北师版四年级下册数学教案模板}
\mkR{p6}{g2}{1618}{4193}{★ 四年级北师大版数学下册教案2021模板}
\mkR{p6}{g3}{1618}{4243}{★ 2021最新北师大版四年级数学下册教案模\\板}
\mkR{p6}{g4}{1618}{4294}{★ 2021北师版四年级数学下册教案范文}
\mkR{p6}{g5}{1618}{4339}{★ 北师大版小学数学教案范文五篇}
\mkR{p6}{g6}{1618}{4384}{★ 2021北师版四年级数学不确定性教案模板}
\mkR{p6}{g7}{1618}{4428}{★ 北师版四年级上册数学教案最新模板}
\mkR{p6}{g8}{1618}{4472}{★ 2021北师大版四年级上册数学教案模板}
\mkR{p6}{g9}{1618}{4516}{★ 四年级数学教案}
\mkR{p6}{g10}{1618}{4561}{★ 四年级人教版下册数学教案最新例文}
\kidsR{l6}{g0}{g1,g2,g3,g4,g5,g6,g7,g8,g9,g10}

% ================= root links =================
\draw[l1] (r.west) -- ++(-10,0) |- (a0.east);
\draw[l3] (r.west) -- ++(-10,0) |- (c0.east);
\draw[l5] (r.west) -- ++(-10,0) |- (e0.east);
\draw[l1] (r.east) -- ++(10,0) |- (i0.west);
\draw[l2] (r.east) -- ++(10,0) |- (d0.west);
\draw[l4] (r.east) -- ++(10,0) |- (f0.west);
\draw[l6] (r.east) -- ++(10,0) |- (g0.west);

% ================= watermark =================
\foreach \yy in {515,1515,2515,3515,4515,5515} {
  \node[wm] at (645,\yy) {树图 {\wmlat shutu.cn}};
  \node[wm] at (1925,\yy) {树图 {\wmlat shutu.cn}};
}
\end{tikzpicture}
\end{document}
